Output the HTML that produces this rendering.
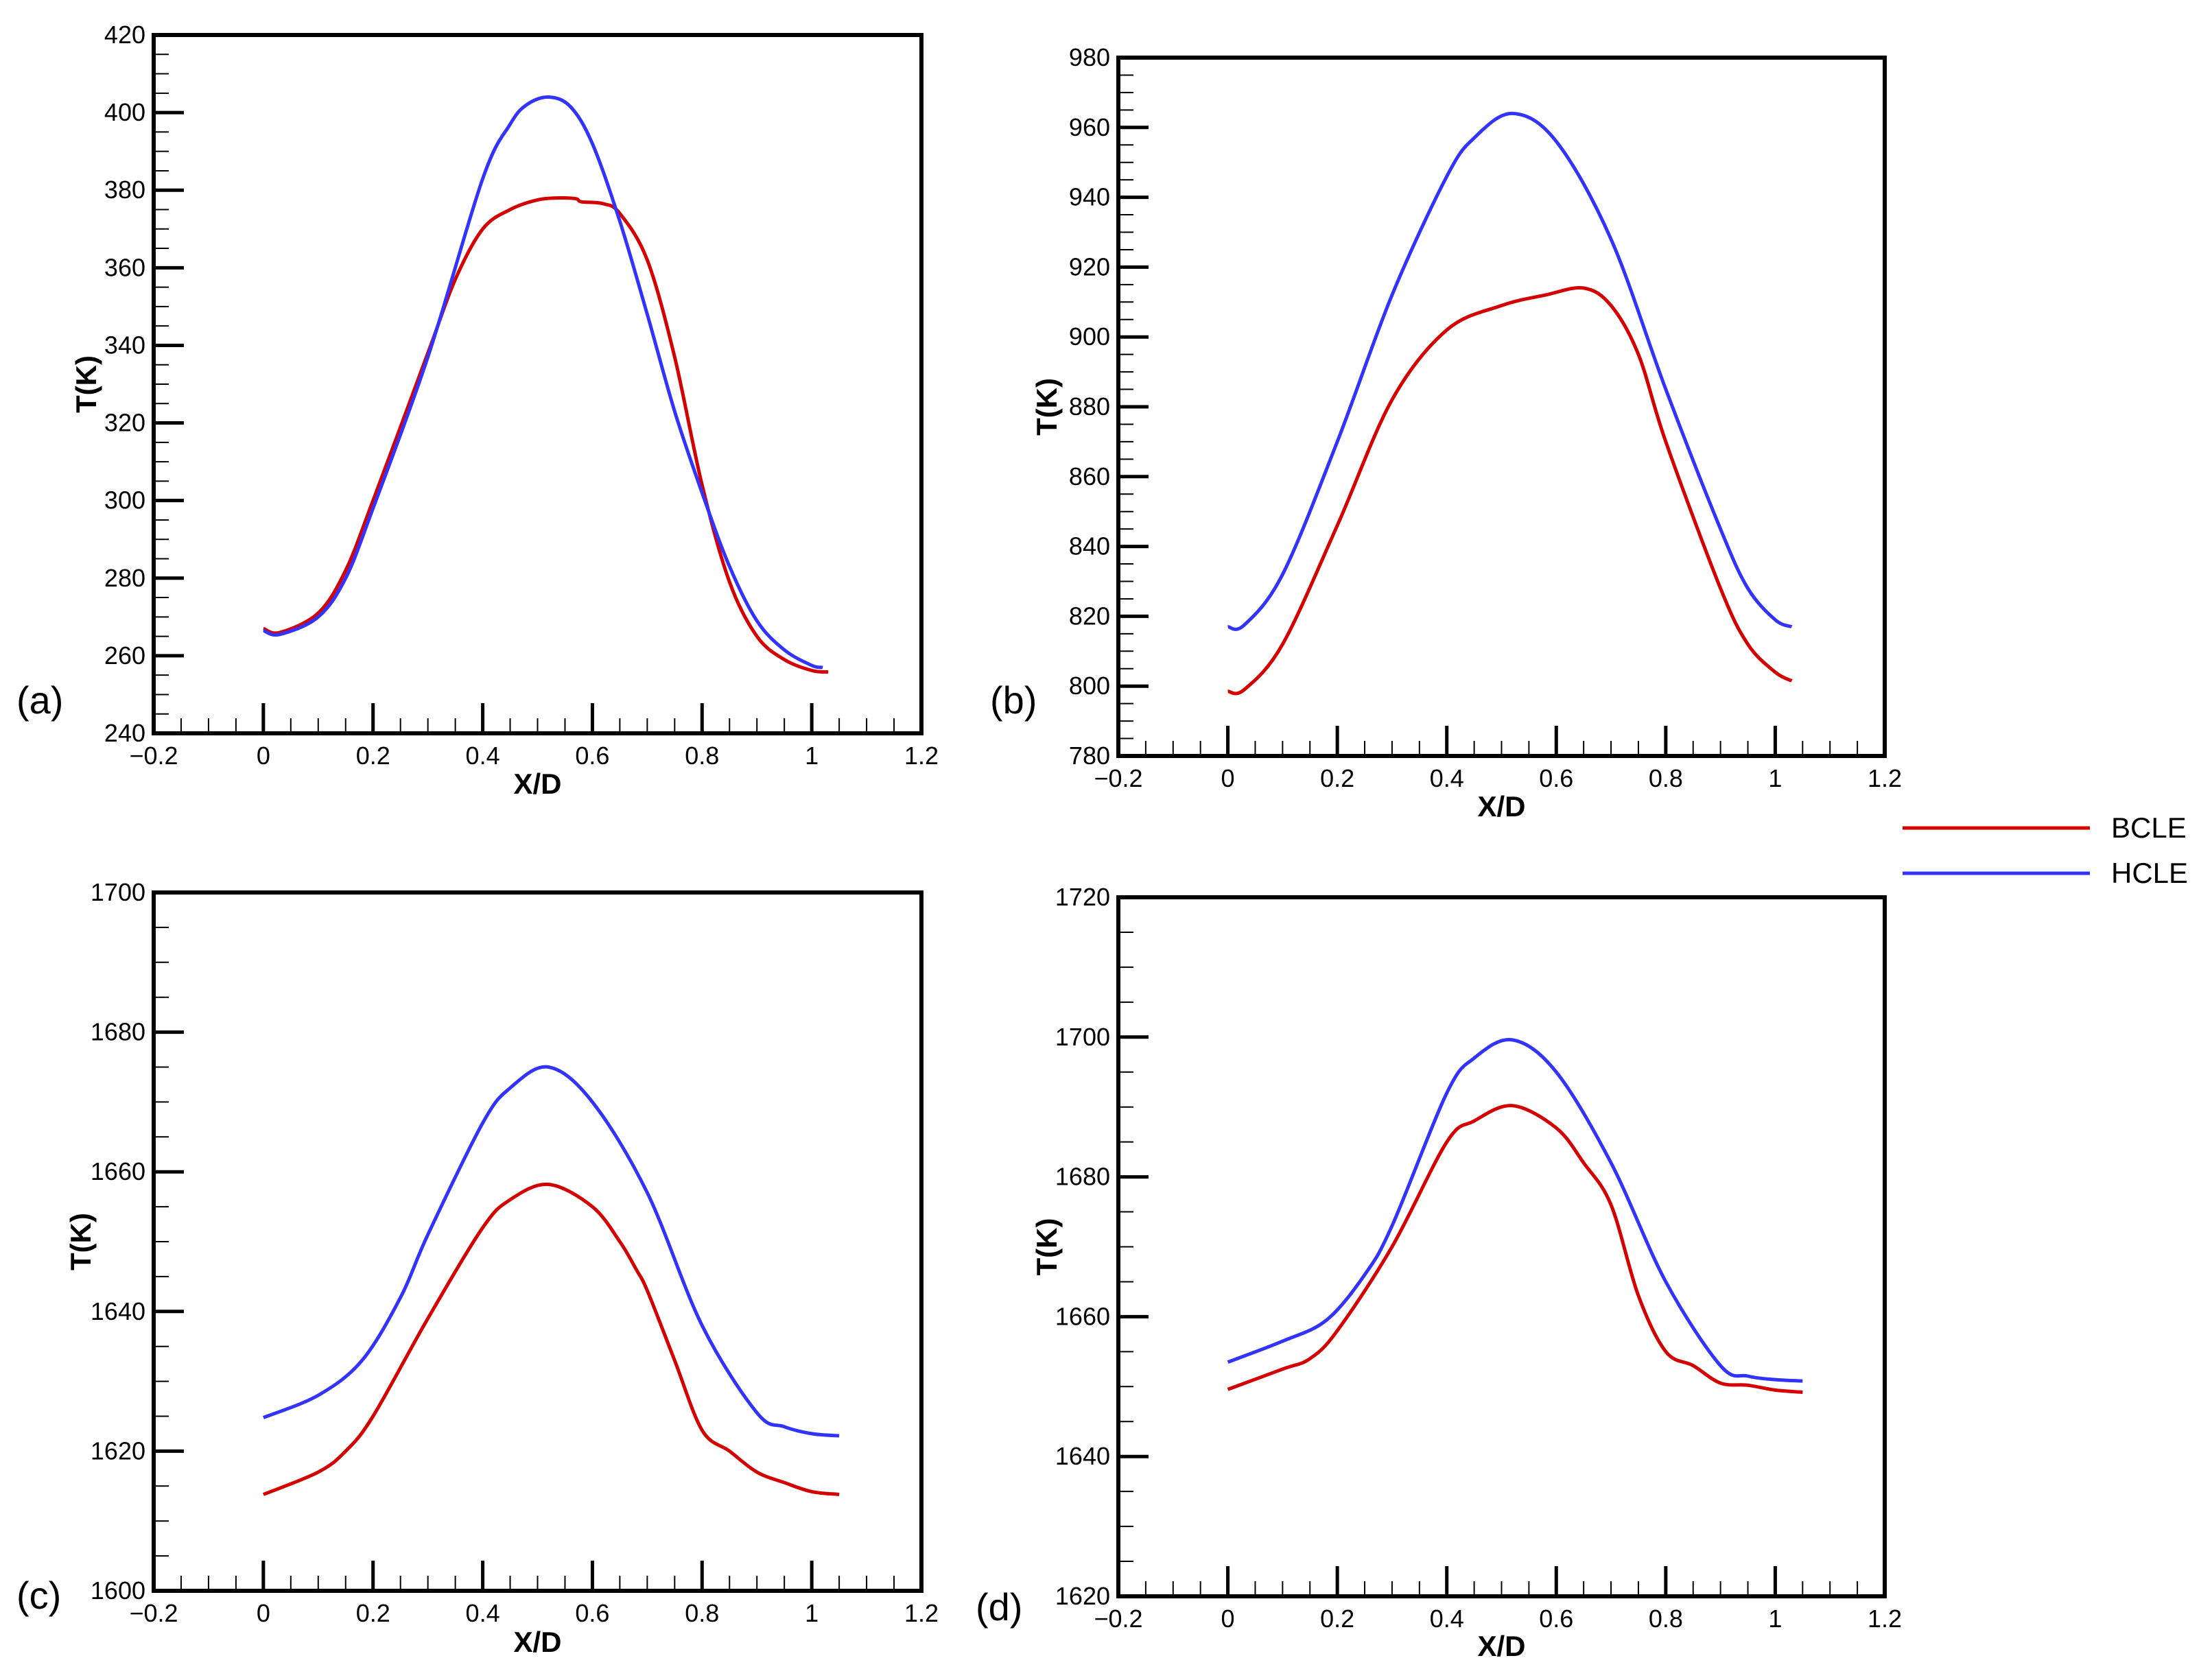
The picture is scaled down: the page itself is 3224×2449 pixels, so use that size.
<!DOCTYPE html>
<html><head><meta charset="utf-8"><style>
html,body{margin:0;padding:0;background:#fff;}
svg text{font-family:"Liberation Sans",sans-serif;}
</style></head><body>
<svg id="fig" width="3224" height="2444" viewBox="0 0 3224 2444" xmlns="http://www.w3.org/2000/svg">
<g>
<line x1="2773" y1="1207" x2="3046" y2="1207" stroke="#d40000" stroke-width="5"/>
<text x="3077" y="1210" font-size="42" dominant-baseline="middle">BCLE</text>
<line x1="2773" y1="1273" x2="3046" y2="1273" stroke="#3333ff" stroke-width="5"/>
<text x="3077" y="1276" font-size="42" dominant-baseline="middle">HCLE</text>
</g>
</svg>
<script>
const xTicks=[-0.2,0,0.2,0.4,0.6,0.8,1,1.2];
const xTickLabels=["-0.2","0","0.2","0.4","0.6","0.8","1","1.2"];
const aYTicks=[240,260,280,300,320,340,360,380,400,420];
const bYTicks=[780,800,820,840,860,880,900,920,940,960,980];
const cYTicks=[1600,1620,1640,1660,1680,1700];
const dYTicks=[1620,1640,1660,1680,1700,1720];
const aX_h=[0,0.03,0.1,0.15,0.2,0.3,0.4,0.45,0.48,0.52,0.56,0.6,0.65,0.7,0.75,0.8,0.85,0.9,0.95,1.0,1.02];
const aHCLE=[266.5,265.5,270,280,298,337,383,397,402,404,401.5,392,372,348,323,302,283,269,261.5,257.5,257];
const aX_b=[0,0.03,0.1,0.15,0.2,0.3,0.35,0.4,0.45,0.5,0.54,0.57,0.58,0.62,0.65,0.7,0.75,0.8,0.85,0.9,0.95,1.0,1.03];
const aBCLE=[267,266,271,282,300,338,357,370,375,377.5,378,377.8,377,376.5,374,362,337,304,279,265,259,256.2,255.8];
const bX_h=[0,0.03,0.1,0.2,0.3,0.4,0.45,0.52,0.6,0.7,0.8,0.9,0.95,1.0,1.03];
const bHCLE=[817,817.5,832,870,912,946,957,964,956,928,885,845,828,819,817];
const bX_b=[0,0.03,0.1,0.2,0.3,0.4,0.5,0.58,0.65,0.7,0.75,0.8,0.9,0.95,1.0,1.03];
const bBCLE=[798.5,799,812,846,882,902,909,912,914,909,895,870,828,812,804,801.5];
const cX_h=[0,0.1,0.18,0.25,0.3,0.4,0.45,0.52,0.6,0.7,0.8,0.9,0.95,1.0,1.05];
const cHCLE=[1624.8,1628,1633,1642,1651,1667,1672,1675,1670,1657,1638,1625.5,1623.5,1622.5,1622.2];
const cX_b=[0,0.1,0.15,0.2,0.3,0.4,0.45,0.52,0.6,0.65,0.68,0.7,0.75,0.8,0.85,0.9,0.95,1.0,1.05];
const cBCLE=[1613.8,1617,1620,1625,1639,1652,1656,1658.2,1655,1650,1646,1643,1633,1623,1620,1617,1615.5,1614.2,1613.8];
const dX_h=[0,0.1,0.18,0.25,0.3,0.4,0.45,0.52,0.6,0.7,0.8,0.9,0.95,1.0,1.05];
const dHCLE=[1653.5,1656.5,1659.5,1666,1673,1692,1697,1699.6,1695,1682,1665,1653,1651.5,1651,1650.8];
const dX_b=[0,0.1,0.15,0.2,0.3,0.4,0.45,0.52,0.6,0.65,0.7,0.75,0.8,0.85,0.9,0.95,1.0,1.05];
const dBCLE=[1649.6,1652.5,1654,1658,1670,1685,1688,1690.2,1687,1682,1676,1663,1655,1653,1650.5,1650.2,1649.5,1649.2];

const NS="http://www.w3.org/2000/svg";
const svg=document.getElementById('fig');
function mk(tag,attrs,parent){const e=document.createElementNS(NS,tag);for(const k in attrs)e.setAttribute(k,attrs[k]);(parent||svg).appendChild(e);return e;}
function smooth(pts){
  let d='M'+pts[0][0].toFixed(1)+','+pts[0][1].toFixed(1);
  for(let i=0;i<pts.length-1;i++){
    const p0=pts[Math.max(0,i-1)],p1=pts[i],p2=pts[i+1],p3=pts[Math.min(pts.length-1,i+2)];
    const c1=[p1[0]+(p2[0]-p0[0])/6,p1[1]+(p2[1]-p0[1])/6];
    const c2=[p2[0]-(p3[0]-p1[0])/6,p2[1]-(p3[1]-p1[1])/6];
    d+=' C'+c1[0].toFixed(1)+','+c1[1].toFixed(1)+' '+c2[0].toFixed(1)+','+c2[1].toFixed(1)+' '+p2[0].toFixed(1)+','+p2[1].toFixed(1);
  }
  return d;
}
function panel(id,L,R,T,B,yTicks,series,tag,tagX,tagY,ylabX,xlabY){
  const g=mk('g',{});
  
  
  const x0=-0.2,x1=1.2,y0=yTicks[0],y1=yTicks[yTicks.length-1];
  const sx=v=>L+(v-x0)/(x1-x0)*(R-L);
  const sy=v=>B-(v-y0)/(y1-y0)*(B-T);
  for(let v=x0;v<=x1+1e-9;v+=0.05){
    const t=mk('line',{x1:sx(v),x2:sx(v),y1:B,y2:B-22,stroke:'#000','stroke-width':2},g);
    
    
  }
  xTicks.forEach((v,i)=>{
    const t=mk('line',{x1:sx(v),x2:sx(v),y1:B,y2:B-44,stroke:'#000','stroke-width':5},g);
    
    
    const tx=mk('text',{x:sx(v),y:B+45,'font-size':36,'text-anchor':'middle'},g);
    tx.textContent=xTickLabels[i].replace('-','\u2212');
    
    
  });
  const step=yTicks[1]-yTicks[0];
  for(let v=y0;v<=y1+1e-9;v+=step/4){
    const t=mk('line',{x1:L,x2:L+22,y1:sy(v),y2:sy(v),stroke:'#000','stroke-width':2},g);
    
    
  }
  yTicks.forEach(v=>{
    const t=mk('line',{x1:L,x2:L+44,y1:sy(v),y2:sy(v),stroke:'#000','stroke-width':5},g);
    
    
    const tx=mk('text',{x:L-12,y:sy(v)+12,'font-size':36,'text-anchor':'end'},g);
    tx.textContent=v;
    
    
  });
  series.forEach(s=>{
    const pts=s.xs.map((x,i)=>[sx(x),sy(s.ys[i])]);
    const p=mk('path',{d:smooth(pts),fill:'none',stroke:s.color,'stroke-width':5,'stroke-linejoin':'round'},g);
    
    
  });
  const r=mk('rect',{x:L,y:T,width:R-L,height:B-T,fill:'none',stroke:'#000','stroke-width':6},g);
  
  
  const xl=mk('text',{x:(L+R)/2,y:xlabY,'font-size':42,'font-weight':'bold','text-anchor':'middle'},g);
  xl.textContent='X/D';
  
  
  const ym=(T+B)/2;
  const yl=mk('text',{x:ylabX,y:ym,'font-size':42,'font-weight':'bold','text-anchor':'middle',transform:'rotate(-90 '+ylabX+' '+ym+')'},g);
  yl.textContent='T(K)';
  
  
  const pl=mk('text',{x:tagX,y:tagY,'font-size':56},g);
  pl.textContent=tag;
  
  
}
const RED='#d40000',BLUE='#3333ff';
panel('a',224,1343,51,1069,aYTicks,[{xs:aX_b,ys:aBCLE,color:RED,name:'bcle-line'},{xs:aX_h,ys:aHCLE,color:BLUE,name:'hcle-line'}],'(a)',24,1040,140,1157);
panel('b',1630,2747,84,1102,bYTicks,[{xs:bX_b,ys:bBCLE,color:RED,name:'bcle-line'},{xs:bX_h,ys:bHCLE,color:BLUE,name:'hcle-line'}],'(b)',1443,1040,1540,1190);
panel('c',224,1343,1301,2319,cYTicks,[{xs:cX_b,ys:cBCLE,color:RED,name:'bcle-line'},{xs:cX_h,ys:cHCLE,color:BLUE,name:'hcle-line'}],'(c)',24,2345,132,2408);
panel('d',1630,2747,1308,2327,dYTicks,[{xs:dX_b,ys:dBCLE,color:RED,name:'bcle-line'},{xs:dX_h,ys:dHCLE,color:BLUE,name:'hcle-line'}],'(d)',1422,2362,1540,2414);
</script>
</body></html>
